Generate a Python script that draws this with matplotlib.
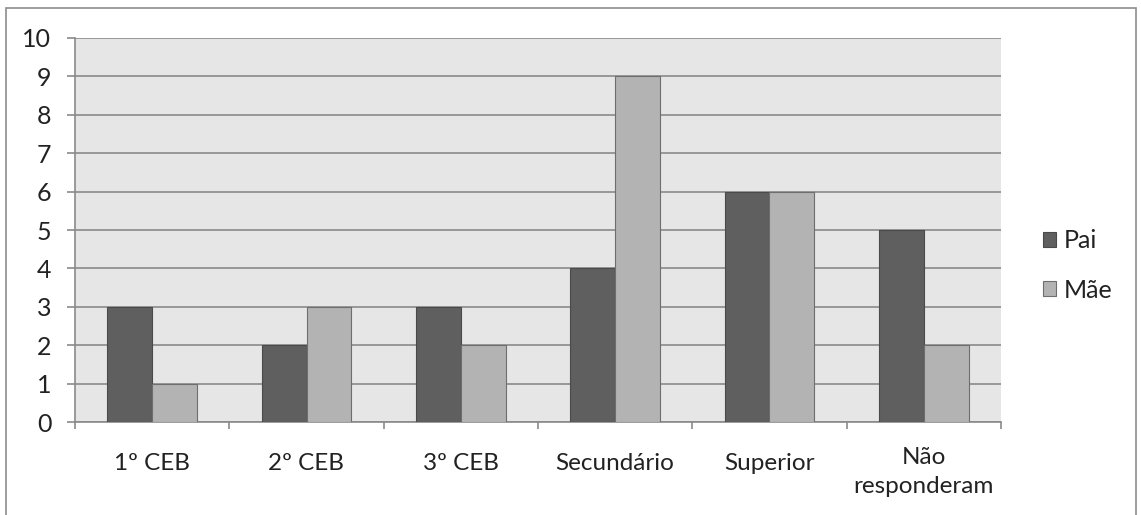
import matplotlib
matplotlib.use("Agg")
import matplotlib.pyplot as plt
from matplotlib.patches import Rectangle
from matplotlib.transforms import ScaledTranslation
import numpy as np

categories = ["1º CEB", "2º CEB", "3º CEB", "Secundário", "Superior", "Não\nresponderam"]
pai = [3, 2, 3, 4, 6, 5]
mae = [1, 3, 2, 9, 6, 2]
series_names = ["Pai", "Mãe"]
yticks = list(range(0, 11))

W, H = 1141, 515
fig = plt.figure(figsize=(W / 100, H / 100), dpi=100)
plt.rcParams["font.family"] = ["Lato", "DejaVu Sans"]

# outer chart frame
fig.patches.append(Rectangle((6 / W, -0.05), (1136 - 6) / W, 1.05 - 8 / H,
                             transform=fig.transFigure, fill=False,
                             edgecolor="#8c8c8c", linewidth=1.2))

ax = fig.add_axes([75 / W, 1 - 422 / H, (1001 - 75) / W, (422 - 38) / H])
ax.set_facecolor("#e6e6e6")

x = np.arange(len(categories))
bw = 0.29
ax.bar(x - bw / 2, pai, bw, color="#5f5f5f", edgecolor="#4a4a4a", linewidth=0.8,
       label=series_names[0], zorder=3)
ax.bar(x + bw / 2, mae, bw, color="#b3b3b3", edgecolor="#6e6e6e", linewidth=0.8,
       label=series_names[1], zorder=3)

ax.set_xlim(-0.5, len(categories) - 0.5)
ax.set_ylim(0, 10)
ax.set_yticks(yticks)
ax.yaxis.grid(True, color="#8a8a8a", linewidth=1.2, zorder=1)
ax.set_axisbelow(True)

for s in ["top", "right"]:
    ax.spines[s].set_visible(False)
ax.spines["left"].set_color("#8a8a8a")
ax.spines["bottom"].set_color("#8a8a8a")
ax.spines["left"].set_linewidth(1.2)
ax.spines["bottom"].set_linewidth(1.2)

ax.tick_params(axis="y", length=6, color="#8a8a8a", width=1.2, labelsize=18,
               labelcolor="#222222", pad=11)
ax.set_yticklabels([str(v) for v in yticks])

# category labels centred, ticks on boundaries
ax.set_xticks(x)
ax.set_xticklabels(categories, fontsize=17.5, color="#222222", linespacing=1.5)
ax.tick_params(axis="x", length=0, pad=22)
ax.set_xticks(np.arange(-0.5, len(categories)), minor=True)
ax.tick_params(axis="x", which="minor", length=5, color="#8a8a8a", width=1.2,
               direction="out")
# two-line label sits a little higher than the single-line ones
last = ax.get_xticklabels()[-1]
last.set_transform(last.get_transform() + ScaledTranslation(0, 6 / 100, fig.dpi_scale_trans))

leg = fig.legend(loc="upper left", bbox_to_anchor=(1020 / W, 1 - 207 / H),
                 frameon=False, fontsize=18, handlelength=0.55, handleheight=0.55,
                 handletextpad=0.3, labelspacing=1.05, labelcolor="#222222")

fig.savefig("out.png", dpi=100)
